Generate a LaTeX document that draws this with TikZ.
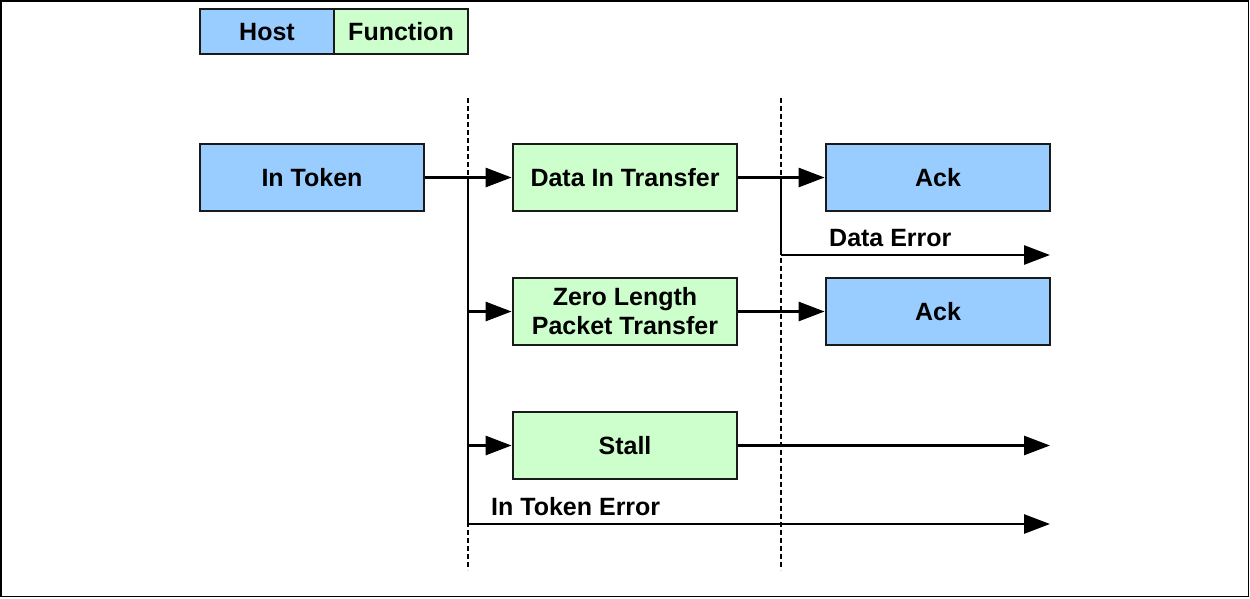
\documentclass[tikz,border=0pt]{standalone}
\usepackage{fontspec}
\setmainfont{Liberation Sans}
\usetikzlibrary{arrows.meta}
\definecolor{hostc}{HTML}{99CCFF}
\definecolor{funcc}{HTML}{CCFFCC}
\definecolor{edgec}{HTML}{1A1A1A}
\begin{document}
\begin{tikzpicture}[x=1pt,y=-1pt,
  box/.style={draw=edgec,line width=2.8pt,minimum width=224pt,minimum height=67pt,inner sep=0pt,
    font=\fontsize{25}{30}\selectfont\bfseries,align=center},
  hostbox/.style={box,fill=hostc},
  funcbox/.style={box,fill=funcc},
  legbox/.style={draw=edgec,line width=2.8pt,minimum width=134pt,minimum height=45pt,inner sep=0pt,
    text height=18pt,text depth=0pt,font=\fontsize{25}{30}\selectfont\bfseries},
  conn/.style={line width=2.8pt,-{Triangle[length=26pt,width=19pt]}},
  plain/.style={line width=2.8pt},
  sep/.style={line width=1.3pt,dash pattern=on 5pt off 3pt},
  lbl/.style={font=\fontsize{25}{30}\selectfont\bfseries,inner sep=0pt,anchor=base west}]
\useasboundingbox (0,0) rectangle (1250,598);
\draw[line width=1.6pt] (1,1) rectangle (1248.5,596.5);
% legend
\node[legbox,fill=hostc] (host) at (267,31.5) {Host};
\node[legbox,fill=funcc] (func) at (401,31.5) {Function};
% separators
\coordinate (s1t) at (468,98); \coordinate (s1b) at (468,570);
\coordinate (s2t) at (781,98); \coordinate (s2b) at (781,570);
\draw[sep] (s1t) -- (s1b);
\draw[sep] (s2t) -- (s2b);
% nodes
\node[hostbox] (tok) at (312,177.5) {In Token};
\node[funcbox] (din) at (625,177.5) {Data In Transfer};
\node[hostbox] (ack1) at (938,177.5) {Ack};
\node[funcbox] (zlp) at (625,311.5) {Zero Length\\[-1pt]Packet Transfer};
\node[hostbox] (ack2) at (938,311.5) {Ack};
\node[funcbox] (stall) at (625,445.5) {Stall};
% coordinates
\coordinate (j1) at (468,177.5);
\coordinate (j2) at (468,311.5);
\coordinate (j3) at (468,445.5);
\coordinate (j4) at (468,524);
\coordinate (e4) at (1050,524);
\coordinate (k1) at (781,177.5);
\coordinate (k2) at (781,255);
\coordinate (e2) at (1050,255);
\coordinate (e3) at (1050,445.5);
% connectors
\draw[conn] (tok.east) -- (din.west);
\draw[plain] (j1) -- (j4);
\draw[conn] (j2) -- (zlp.west);
\draw[conn] (j3) -- (stall.west);
\draw[conn] (j4) -- (e4);
\draw[conn] (din.east) -- (ack1.west);
\draw[plain] (k1) -- (k2);
\draw[conn] (k2) -- (e2);
\draw[conn] (zlp.east) -- (ack2.west);
\draw[conn] (stall.east) -- (e3);
% labels
\node[lbl] (lde) at (829,246) {Data Error};
\node[lbl] (lte) at (491,515) {In Token Error};
\end{tikzpicture}
\end{document}
